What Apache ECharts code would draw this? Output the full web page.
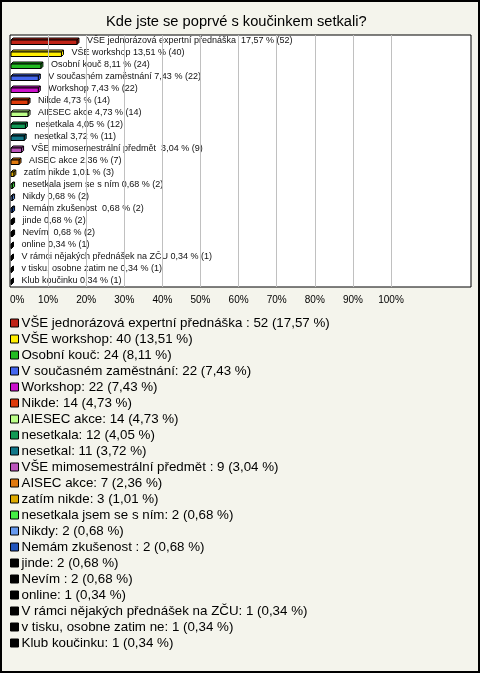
<!DOCTYPE html>
<html>
<head>
<meta charset="utf-8">
<script src="https://cdn.jsdelivr.net/npm/echarts@6/dist/echarts.min.js"></script>
<style>
html,body{margin:0;padding:0;background:#f4f4ec;}
#c{width:480px;height:673px;}
</style>
</head>
<body>
<div id="c"></div>
<script>
const titleText = "Kde jste se poprvé s koučinkem setkali?";
const names = ["VŠE jednorázová expertní přednáška ", "VŠE workshop", "Osobní kouč", "V současném zaměstnání", "Workshop", "Nikde", "AIESEC akce", "nesetkala", "nesetkal", "VŠE mimosemestrální předmět ", "AISEC akce", "zatím nikde", "nesetkala jsem se s ním", "Nikdy", "Nemám zkušenost ", "jinde", "Nevím ", "online", "V rámci nějakých přednášek na ZČU", "v tisku, osobne zatim ne", "Klub koučinku"];
const counts = [52, 40, 24, 22, 22, 14, 14, 12, 11, 9, 7, 3, 2, 2, 2, 2, 2, 1, 1, 1, 1];
const pcts = [17.57, 13.51, 8.11, 7.43, 7.43, 4.73, 4.73, 4.05, 3.72, 3.04, 2.36, 1.01, 0.68, 0.68, 0.68, 0.68, 0.68, 0.34, 0.34, 0.34, 0.34];
const colors = ["#c02418", "#ffee00", "#22bb22", "#4466ee", "#cc11cc", "#dd3a0a", "#bbff88", "#119955", "#117788", "#bb55bb", "#e07a10", "#ddaa00", "#44ee44", "#6699ee", "#2255bb", "#000000", "#000000", "#000000", "#000000", "#000000", "#000000"];
const tickValues = [10, 20, 30, 40, 50, 60, 70, 80, 90, 100];

const fmtPct = v => v.toFixed(2).replace('.', ',');
const FONT = '"Liberation Sans", Arial, sans-serif';

function renderItem(params, api) {
  const i = params.seriesIndex;
  const v = api.value(0), idx = api.value(1);
  const p0 = api.coord([0, idx]);
  const p1 = api.coord([v, idx]);
  const c = p0[1];
  const x0 = p0[0] + 1;
  const x1 = Math.max(p1[0], x0 + 0.5);
  const d = 2;
  const yt = c - 1, yb = c + 3.5;
  const color = api.visual('color');
  const st = {fill: color, stroke: '#000', lineWidth: 1};
  return {
    type: 'group',
    children: [
      {type: 'polygon', shape: {points: [[x0, yt], [x0 + d, yt - d], [x1 + d, yt - d], [x1, yt]]}, style: st},
      {type: 'polygon', shape: {points: [[x1, yt], [x1 + d, yt - d], [x1 + d, yb - d], [x1, yb]]}, style: st},
      {type: 'rect', shape: {x: x0, y: yt, width: x1 - x0, height: yb - yt}, style: st},
      {type: 'text', x: x1 + 10, y: c, style: {text: names[i] + ' ' + fmtPct(pcts[i]) + ' % (' + counts[i] + ')', fill: '#111', font: '9px ' + FONT, verticalAlign: 'middle', align: 'left'}}
    ]
  };
}

const series = names.map((n, i) => ({
  type: 'custom',
  name: n,
  renderItem: renderItem,
  itemStyle: {color: colors[i]},
  encode: {x: 0, y: 1},
  data: [[pcts[i], i]],
  clip: false,
  silent: true
}));
series.push({
  type: 'custom',
  name: '__grid',
  renderItem: () => ({type: 'group', children: []}),
  data: [],
  z: 1,
  silent: true,
  markLine: {
    silent: true,
    symbol: 'none',
    label: {show: false},
    lineStyle: {color: '#c0c0c0', width: 1, type: 'solid'},
    data: tickValues.map(v => ({xAxis: v}))
  }
});

const chart = echarts.init(document.getElementById('c'), null, {renderer: 'canvas'});
chart.setOption({
  backgroundColor: '#f4f4ec',
  animation: false,
  title: {
    text: titleText, left: 106, top: 14, padding: 0,
    textStyle: {fontFamily: FONT, fontSize: 14.67, fontWeight: 'normal', color: '#000'}
  },
  grid: {
    left: 10, right: 9, top: 35, bottom: 386, show: true,
    backgroundColor: '#ffffff', borderColor: '#000', borderWidth: 1, containLabel: false
  },
  xAxis: {
    type: 'value', min: 0, max: 121, interval: 10,
    splitLine: {show: false}, axisLine: {show: false}, axisTick: {show: false},
    axisLabel: {
      fontFamily: FONT, fontSize: 10, color: '#000', margin: 8,
      formatter: v => (v <= 100 ? v + '%' : ''), alignMinLabel: 'left'
    }
  },
  yAxis: {
    type: 'category', data: names, inverse: true,
    axisLine: {show: false}, axisTick: {show: false}, axisLabel: {show: false}, splitLine: {show: false}
  },
  legend: {
    orient: 'vertical', left: 10, top: 315, padding: 0, itemWidth: 8, itemHeight: 8, itemGap: 0,
    icon: 'rect', selectedMode: false, data: names,
    itemStyle: {borderColor: '#000', borderWidth: 1},
    textStyle: {fontFamily: FONT, fontSize: 13.33, color: '#000', lineHeight: 16, padding: [0, 0, 0, -2]},
    formatter: n => { const i = names.indexOf(n); return n + ': ' + counts[i] + ' (' + fmtPct(pcts[i]) + ' %)'; }
  },
  graphic: [{
    type: 'rect', silent: true, z: 100,
    shape: {x: 1, y: 1, width: 478, height: 671},
    style: {fill: 'none', stroke: '#000', lineWidth: 2}
  }],
  series: series
});
</script>
</body>
</html>
